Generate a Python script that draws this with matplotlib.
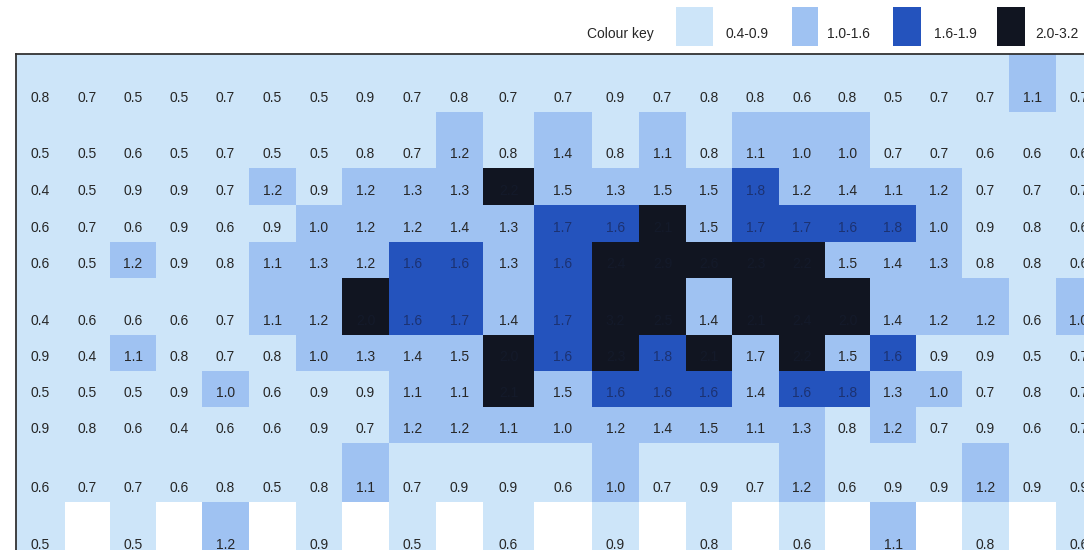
import numpy as np
import matplotlib.pyplot as plt
from matplotlib.colors import ListedColormap, BoundaryNorm
from matplotlib.patches import Rectangle

plt.rcParams['font.family'] = ['Liberation Sans', 'DejaVu Sans']

nan = np.nan

# cell values (black cells hide their text, values estimated)
row0 = [0.8, 0.7, 0.5, 0.5, 0.7, 0.5, 0.5, 0.9, 0.7, 0.8, 0.7, 0.7, 0.9, 0.7, 0.8, 0.8, 0.6, 0.8, 0.5, 0.7, 0.7, 1.1, 0.7]
row1 = [0.5, 0.5, 0.6, 0.5, 0.7, 0.5, 0.5, 0.8, 0.7, 1.2, 0.8, 1.4, 0.8, 1.1, 0.8, 1.1, 1.0, 1.0, 0.7, 0.7, 0.6, 0.6, 0.6]
row2 = [0.4, 0.5, 0.9, 0.9, 0.7, 1.2, 0.9, 1.2, 1.3, 1.3, 2.2, 1.5, 1.3, 1.5, 1.5, 1.8, 1.2, 1.4, 1.1, 1.2, 0.7, 0.7, 0.7]
row3 = [0.6, 0.7, 0.6, 0.9, 0.6, 0.9, 1.0, 1.2, 1.2, 1.4, 1.3, 1.7, 1.6, 2.1, 1.5, 1.7, 1.7, 1.6, 1.8, 1.0, 0.9, 0.8, 0.6]
row4 = [0.6, 0.5, 1.2, 0.9, 0.8, 1.1, 1.3, 1.2, 1.6, 1.6, 1.3, 1.6, 2.4, 2.9, 2.6, 2.3, 2.2, 1.5, 1.4, 1.3, 0.8, 0.8, 0.6]
row5 = [0.4, 0.6, 0.6, 0.6, 0.7, 1.1, 1.2, 2.0, 1.6, 1.7, 1.4, 1.7, 3.2, 2.5, 1.4, 2.1, 2.4, 2.0, 1.4, 1.2, 1.2, 0.6, 1.0]
row6 = [0.9, 0.4, 1.1, 0.8, 0.7, 0.8, 1.0, 1.3, 1.4, 1.5, 2.0, 1.6, 2.3, 1.8, 2.1, 1.7, 2.2, 1.5, 1.6, 0.9, 0.9, 0.5, 0.7]
row7 = [0.5, 0.5, 0.5, 0.9, 1.0, 0.6, 0.9, 0.9, 1.1, 1.1, 2.1, 1.5, 1.6, 1.6, 1.6, 1.4, 1.6, 1.8, 1.3, 1.0, 0.7, 0.8, 0.7]
row8 = [0.9, 0.8, 0.6, 0.4, 0.6, 0.6, 0.9, 0.7, 1.2, 1.2, 1.1, 1.0, 1.2, 1.4, 1.5, 1.1, 1.3, 0.8, 1.2, 0.7, 0.9, 0.6, 0.7]
row9 = [0.6, 0.7, 0.7, 0.6, 0.8, 0.5, 0.8, 1.1, 0.7, 0.9, 0.9, 0.6, 1.0, 0.7, 0.9, 0.7, 1.2, 0.6, 0.9, 0.9, 1.2, 0.9, 0.9]
row10 = [0.5, nan, 0.5, nan, 1.2, nan, 0.9, nan, 0.5, nan, 0.6, nan, 0.9, nan, 0.8, nan, 0.6, nan, 1.1, nan, 0.8, nan, 0.6]

# colour key class of every cell as printed (0 light .. 3 black, '-' empty)
classes = [
    "00000000000000000000010",
    "00000000010101011100000",
    "00000101113111121111000",
    "00000011111223122221000",
    "00100111221233333111000",
    "00000113221233133311101",
    "00100011113232313120000",
    "00001000113122212211000",
    "00000000111111111010000",
    "00000001000010001000100",
    "0-0-1-0-0-0-0-0-0-1-0-0",
]

key_labels = ['0.4-0.9', '1.0-1.6', '1.6-1.9', '2.0-3.2']
key_colors = ['#cde5f9', '#9fc2f2', '#2453bd', '#111521']
text_colors = ['#262626', '#262626', '#1c3272', '#141a2a']

# grid geometry in pixels (rows and columns are not all the same size)
col_widths = [49, 45, 46, 46, 47, 47, 46, 47, 47, 47, 51, 58, 47, 47, 46, 47, 46, 45, 46, 46, 47, 47, 46]
row_heights = [58, 56, 37, 37, 36, 57, 36, 36, 36, 59, 57]
text_lift = 14

values = np.array([row0, row1, row2, row3, row4, row5, row6, row7,
                   row8, row9, row10])
cls = np.array([[-1 if c == '-' else int(c) for c in r] for r in classes], dtype=float)
cls = np.ma.masked_less(cls, 0)

x_edges = np.concatenate([[0], np.cumsum(col_widths)])
y_edges = np.concatenate([[0], np.cumsum(row_heights)])

W, H = 1084, 550
fig = plt.figure(figsize=(W / 100, H / 100), dpi=100)
x0, y0 = 16, 54
ax = fig.add_axes([x0 / W, 1 - (y0 + y_edges[-1]) / H, x_edges[-1] / W, y_edges[-1] / H])

cmap = ListedColormap(key_colors)
norm = BoundaryNorm([-0.5, 0.5, 1.5, 2.5, 3.5], cmap.N)
ax.pcolormesh(x_edges, y_edges, cls, cmap=cmap, norm=norm)

for i in range(values.shape[0]):
    for j in range(values.shape[1]):
        v = values[i, j]
        if np.isnan(v):
            continue
        xc = 0.5 * (x_edges[j] + x_edges[j + 1])
        yc = y_edges[i + 1] - text_lift
        ax.text(xc, yc, f'{v:.1f}', ha='center', va='center', fontsize=10,
                color=text_colors[int(cls[i, j])])

ax.set_xlim(x_edges[0], x_edges[-1])
ax.set_ylim(y_edges[-1], y_edges[0])
ax.set_xticks([])
ax.set_yticks([])
for side in ['right', 'bottom']:
    ax.spines[side].set_visible(False)
for side in ['top', 'left']:
    ax.spines[side].set_color('#333333')
    ax.spines[side].set_linewidth(1.3)

# colour key above the grid
lg = fig.add_axes([0, 0, 1, 1], facecolor='none')
lg.set_xlim(0, W)
lg.set_ylim(H, 0)
lg.axis('off')
swatch_x = [676, 792, 893, 997]
swatch_w = [37, 26, 28, 28]
label_x = [747, 848, 955, 1057]
lg.text(620, 34, 'Colour key', ha='center', va='center', fontsize=10, color='#262626')
for sx, sw, lx, lab, col in zip(swatch_x, swatch_w, label_x, key_labels, key_colors):
    lg.add_patch(Rectangle((sx, 7), sw, 39, facecolor=col, edgecolor='none'))
    lg.text(lx, 34, lab, ha='center', va='center', fontsize=10, color='#262626')

fig.savefig('out.png', dpi=100)
